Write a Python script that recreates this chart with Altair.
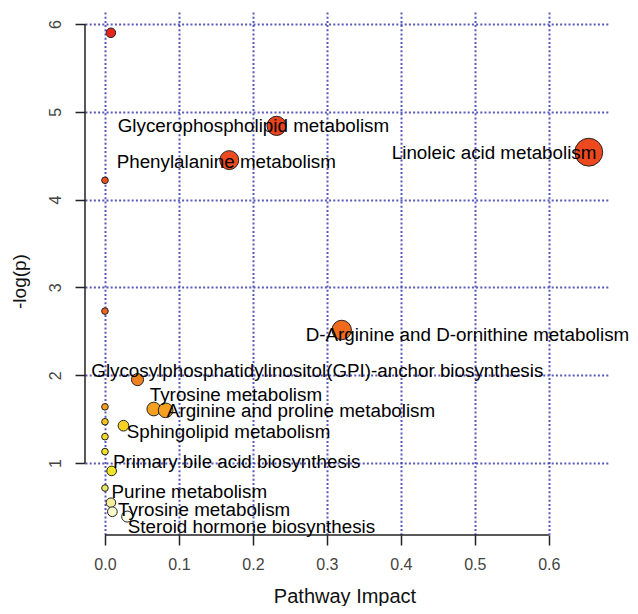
import altair as alt
import pandas as pd

# ---- data ----
impact = [0.008, 0.232, 0.168, 0.654, 0.0, 0.0, 0.320, 0.044, 0.0, 0.066, 0.082,
          0.0, 0.025, 0.0, 0.0, 0.009, 0.0, 0.008, 0.010, 0.030]
neglogp = [5.90, 4.84, 4.45, 4.54, 4.22, 2.73, 2.515, 1.95, 1.64, 1.615, 1.60,
           1.47, 1.425, 1.30, 1.13, 0.91, 0.715, 0.548, 0.445, 0.39]

label_names = [
    "Glycerophospholipid metabolism",
    "Phenylalanine metabolism",
    "Linoleic acid metabolism",
    "D-Arginine and D-ornithine metabolism",
    "Glycosylphosphatidylinositol(GPI)-anchor biosynthesis",
    "Tyrosine metabolism",
    "Arginine and proline metabolism",
    "Sphingolipid metabolism",
    "Primary bile acid biosynthesis",
    "Purine metabolism",
    "Tyrosine metabolism",
    "Steroid hormone biosynthesis",
]
label_x = [0.2007, 0.164, 0.526, 0.49, 0.287, 0.177, 0.265, 0.167, 0.178, 0.114, 0.134, 0.198]
label_y = [4.84, 4.43, 4.53, 2.46, 2.05, 1.775, 1.59, 1.35, 1.015, 0.67, 0.47, 0.275]

x_ticks = [0.0, 0.1, 0.2, 0.3, 0.4, 0.5, 0.6]
y_ticks = [1, 2, 3, 4, 5, 6]

points = pd.DataFrame({"impact": impact, "neglogp": neglogp})
labels = pd.DataFrame({"name": label_names, "lx": label_x, "ly": label_y})

FONT = "Liberation Sans"
W, H = 523, 523
GRID = "#2f2fa8"

xscale = alt.Scale(domain=[-0.027, 0.68], nice=False, zero=False)
yscale = alt.Scale(domain=[0.18, 6.137], nice=False, zero=False)

x_axis = alt.Axis(
    values=x_ticks, format=".1f", domain=False,
    grid=True, gridColor=GRID, gridDash=[2, 2.2], gridWidth=2, gridOpacity=0.8,
    tickSize=10, tickColor="#222", tickWidth=1.5,
    labelFont=FONT, labelFontSize=16, labelColor="#444", labelPadding=11,
    title="Pathway Impact", titleFont=FONT, titleFontSize=20, titleFontWeight="normal",
    titleColor="#111", titleX=259.5, titleY=67, titleAlign="center", titleBaseline="alphabetic",
)
y_axis = alt.Axis(
    values=y_ticks, format="d", domain=False,
    grid=True, gridColor=GRID, gridDash=[2, 2.2], gridWidth=2, gridOpacity=0.8,
    tickSize=10, tickColor="#222", tickWidth=1.5,
    labelFont=FONT, labelFontSize=16, labelColor="#444", labelPadding=12,
    labelAngle=270, labelAlign="center", labelBaseline="bottom",
    title="-log(p)", titleFont=FONT, titleFontSize=19, titleFontWeight="normal",
    titleColor="#111", titleX=-66, titleY=269, titleAngle=270,
    titleAlign="center", titleBaseline="middle",
)

color_scale = alt.Scale(
    domain=[0.39, 0.55, 0.72, 0.91, 1.3, 1.43, 1.6, 1.95, 2.7, 4.2, 5.9],
    range=["#fbfbe8", "#f2ee9a", "#e8e860", "#f0e628", "#f0dc28", "#f5d020",
           "#f5a020", "#f08020", "#f0621e", "#ee5020", "#e4261c"],
)
size_scale = alt.Scale(
    domain=[0, 0.008, 0.03, 0.07, 0.17, 0.33, 0.66],
    range=[44, 92, 121, 196, 361, 380, 784],
)

pts = alt.Chart(points).mark_circle(stroke="#222", strokeWidth=1, opacity=1).encode(
    x=alt.X("impact:Q", scale=xscale, axis=x_axis),
    y=alt.Y("neglogp:Q", scale=yscale, axis=y_axis),
    color=alt.Color("neglogp:Q", scale=color_scale, legend=None),
    size=alt.Size("impact:Q", scale=size_scale, legend=None),
)

txt = alt.Chart(labels).mark_text(
    font=FONT, fontSize=18.8, color="#000", align="center", baseline="middle"
).encode(
    x=alt.X("lx:Q", scale=xscale, axis=x_axis),
    y=alt.Y("ly:Q", scale=yscale, axis=y_axis),
    text="name:N",
)

xrule = alt.Chart(pd.DataFrame({"a": [x_ticks[0]], "b": [x_ticks[-1]]})).mark_rule(
    color="#222", strokeWidth=1.5
).encode(
    x=alt.X("a:Q", scale=xscale, axis=x_axis), x2="b:Q", y=alt.value(H)
)
yrule = alt.Chart(pd.DataFrame({"a": [y_ticks[0]], "b": [y_ticks[-1]]})).mark_rule(
    color="#222", strokeWidth=1.5
).encode(
    y=alt.Y("a:Q", scale=yscale, axis=y_axis), y2="b:Q", x=alt.value(0)
)

chart = alt.layer(pts, xrule, yrule, txt).properties(
    width=W, height=H,
    padding={"left": 77, "top": 4, "right": 22, "bottom": 71},
    autosize=alt.AutoSizeParams(type="none"),
    background="white",
).configure_view(stroke=None)

chart.save("out.html", embed_options={"renderer": "svg", "actions": False})
